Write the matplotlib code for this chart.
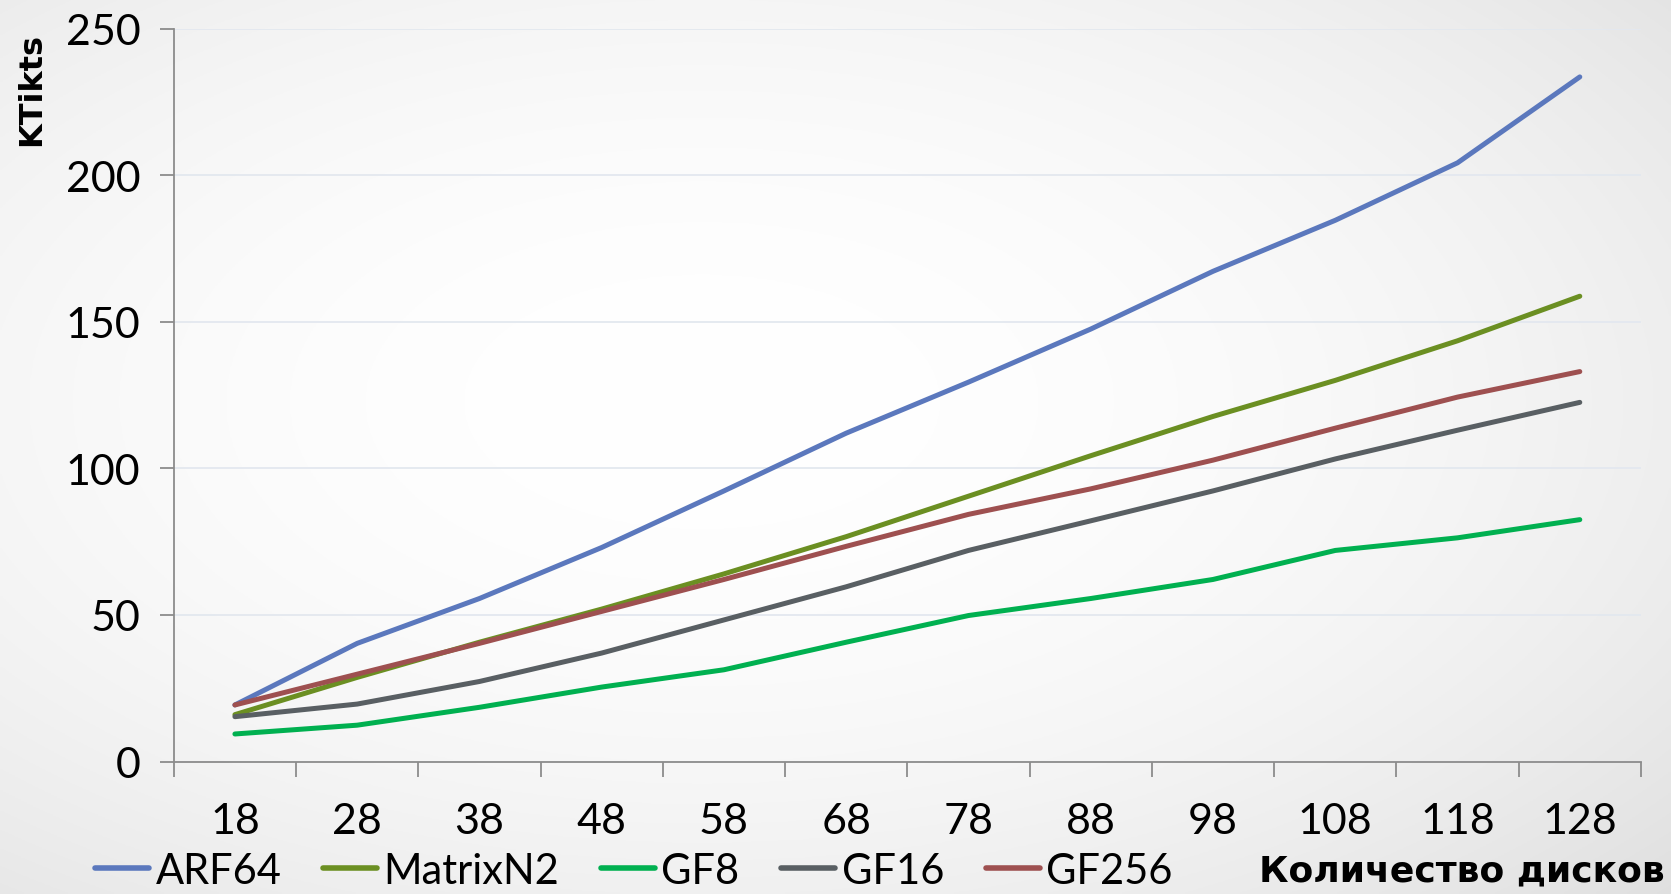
import numpy as np
import matplotlib
matplotlib.use("Agg")
import matplotlib.pyplot as plt
from matplotlib.lines import Line2D

categories = ["18", "28", "38", "48", "58", "68", "78", "88", "98", "108", "118", "128"]
arf64    = [19.3, 40.3, 55.6, 73.0, 92.3, 112.0, 129.4, 147.5, 167.2, 184.6, 204.2, 233.5]
matrixn2 = [16.0, 28.7, 40.7, 52.0, 64.0, 76.7, 90.5, 104.3, 117.7, 130.0, 143.5, 158.7]
gf8      = [9.4, 12.4, 18.5, 25.4, 31.3, 40.7, 49.8, 55.6, 62.1, 72.0, 76.3, 82.5]
gf16     = [15.3, 19.6, 27.3, 37.0, 48.3, 59.6, 72.0, 82.1, 92.3, 103.2, 113.0, 122.5]
gf256    = [19.3, 29.8, 40.3, 51.2, 62.1, 73.4, 84.3, 93.0, 102.8, 113.7, 124.3, 133.0]
series_names = ["ARF64", "MatrixN2", "GF8", "GF16", "GF256"]
y_ticks = [0, 50, 100, 150, 200, 250]

colors = ["#5b78bd", "#6b8f22", "#00b050", "#595f63", "#9e5050"]
series = [arf64, matrixn2, gf8, gf16, gf256]

plt.rcParams['font.family'] = ['Lato', 'DejaVu Sans']

fig = plt.figure(figsize=(16.71, 8.95), dpi=100)

# background gradient
bg = fig.add_axes([0, 0, 1, 1], zorder=-10)
yy, xx = np.mgrid[0:1:300j, 0:1:560j]
d = np.sqrt(((xx - 0.42) / 0.72) ** 2 + ((yy - 0.55) / 0.72) ** 2)
shade = 1.0 - 0.10 * np.clip(d, 0, 1.2) ** 2
bg.imshow(np.dstack([shade, shade, shade]), extent=[0, 1, 0, 1], aspect='auto', origin='lower')
bg.axis('off')

ax = fig.add_axes([0.104, 0.148, 0.878, 0.819])
ax.patch.set_alpha(0)
x = np.arange(len(categories))
for name, vals, c in zip(series_names, series, colors):
    ax.plot(x, vals, color=c, lw=3.6, solid_capstyle='round', solid_joinstyle='round', label=name)

ax.set_xlim(-0.5, len(categories) - 0.5)
ax.set_ylim(0, 250)
ax.set_yticks(y_ticks)
ax.set_xticks(np.arange(-0.5, len(categories), 1.0))
ax.set_xticklabels([])
ax.set_xticks(x, minor=True)
ax.set_xticklabels(categories, minor=True)
ax.tick_params(axis='x', which='major', length=11, width=1.3, color='#8c8c8c', direction='out')
ax.tick_params(axis='x', which='minor', length=0, pad=29, labelsize=31)
ax.tick_params(axis='y', length=10, width=1.3, color='#8c8c8c', direction='out', labelsize=31, pad=14)
ax.grid(axis='y', color='#e3e8ef', lw=1.3)
ax.set_axisbelow(True)
for s in ['top', 'right']:
    ax.spines[s].set_visible(False)
for s in ['left', 'bottom']:
    ax.spines[s].set_color('#8c8c8c')
    ax.spines[s].set_linewidth(1.3)

fig.text(0.019, 0.900, "KTikts", rotation=90, fontsize=23, fontweight='bold',
         family='DejaVu Sans', ha='center', va='center')
fig.text(0.996, 0.026, "Количество дисков", fontsize=26, fontweight='bold',
         family='DejaVu Sans', ha='right', va='center')

handles = [Line2D([0], [0], color=c, lw=4, solid_capstyle='round') for c in colors]
leg = fig.legend(handles, series_names, loc='center left', bbox_to_anchor=(0.057, 0.026), ncol=5,
                 frameon=False, fontsize=30, handlelength=1.3, handletextpad=0.15, columnspacing=1.0,
                 borderaxespad=0, borderpad=0)

fig.savefig("out.png", dpi=100)
